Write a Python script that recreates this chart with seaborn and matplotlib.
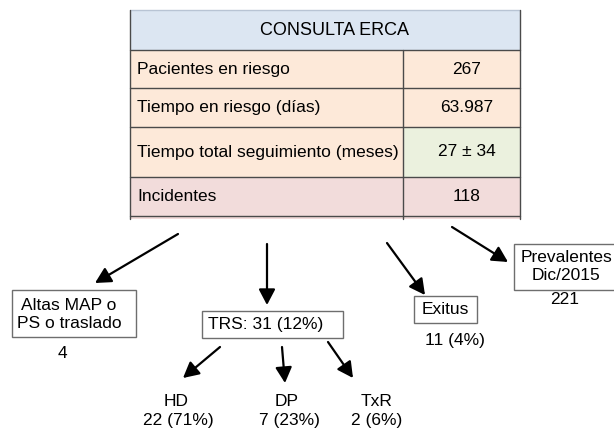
import matplotlib
matplotlib.use("Agg")
import matplotlib.pyplot as plt
from matplotlib.patches import Rectangle
import seaborn as sns

# data
title = "CONSULTA ERCA"
row_labels = ["Pacientes en riesgo", "Tiempo en riesgo (días)",
              "Tiempo total seguimiento (meses)", "Incidentes"]
row_values = ["267", "63.987", "27 ± 34", "118"]

outcome_labels = ["Altas MAP o\nPS o traslado", "TRS: 31 (12%)", "Exitus", "Prevalentes\nDic/2015"]
outcome_counts = ["4", "", "11 (4%)", "221"]

trs_labels = ["HD", "DP", "TxR"]
trs_counts = ["22 (71%)", "7 (23%)", "2 (6%)"]

# layout (pixel coordinates, y down)
tab_left, tab_right, tab_div = 130, 520, 403
header = (10, 50)
row_edges = [50, 88, 127, 177, 216]
row_colors = ["#fde9d9", "#fde9d9", "#fde9d9", "#f2dcdb"]
value_colors = ["#fde9d9", "#fde9d9", "#ebf1de", "#f2dcdb"]
header_color = "#dce6f2"
line_color = "#4a4a4a"

# box: x0, y0, x1, y1 ; text position ; count position
boxes = [(12, 290, 136, 337), (202, 311, 343, 338), (414, 296, 477, 323), (514, 244, 616, 290)]
box_text_pos = [(69, 315), (266, 324), (445, 309), (566, 267)]
count_pos = [(62, 353), None, (455, 341), (565, 300)]

main_arrows = [((178, 234), (95, 283)), ((267, 244), (267, 305)),
               ((387, 243), (425, 295)), ((452, 227), (508, 262))]
sub_arrows = [((220, 347), (183, 378)), ((282, 347), (285, 383)), ((328, 342), (353, 378))]
trs_label_pos = [(176, 401), (287, 401), (377, 401)]
trs_count_pos = [(178, 420), (289, 420), (377, 420)]

sns.set_theme(style="white")
plt.rcParams["font.family"] = ["Liberation Sans", "DejaVu Sans"]
plt.rcParams["text.color"] = "black"
fs = 12.5

fig = plt.figure(figsize=(6.14, 4.28), dpi=100)
ax = fig.add_axes([0, 0, 1, 1])
ax.set_xlim(0, 614)
ax.set_ylim(428, 0)
ax.axis("off")

# table header
ax.add_patch(Rectangle((tab_left, header[0]), tab_right - tab_left, header[1] - header[0],
                       facecolor=header_color, edgecolor="none"))
ax.plot([tab_left, tab_right], [header[0], header[0]], color="#b8c4d4", lw=1)
ax.text(335, 30, title, ha="center", va="center", fontsize=13)

# table rows
for i, (lab, val) in enumerate(zip(row_labels, row_values)):
    y0, y1 = row_edges[i], row_edges[i + 1]
    ax.add_patch(Rectangle((tab_left, y0), tab_div - tab_left, y1 - y0,
                           facecolor=row_colors[i], edgecolor="none"))
    ax.add_patch(Rectangle((tab_div, y0), tab_right - tab_div, y1 - y0,
                           facecolor=value_colors[i], edgecolor="none"))
    ym = (y0 + y1) / 2
    ax.text(137, ym, lab, ha="left", va="center", fontsize=fs)
    ax.text(467, ym, val, ha="center", va="center", fontsize=fs)

ax.add_patch(Rectangle((tab_left, row_edges[-1]), tab_right - tab_left, 3,
                       facecolor=row_colors[-1], edgecolor="none"))
for y in row_edges:
    ax.plot([tab_left, tab_right], [y, y], color=line_color, lw=1)
ax.plot([tab_left, tab_left], [header[0], 219], color=line_color, lw=1)
ax.plot([tab_right, tab_right], [header[0], 219], color=line_color, lw=1)
ax.plot([tab_div, tab_div], [row_edges[0], 219], color=line_color, lw=1)

# arrows
head = "-|>,head_length=0.95,head_width=0.5"
for (tail, tip) in main_arrows + sub_arrows:
    ax.annotate("", xy=tip, xytext=tail,
                arrowprops=dict(arrowstyle=head, mutation_scale=10, color="black",
                                lw=1.6, shrinkA=0, shrinkB=0))

# outcome boxes
for (x0, y0, x1, y1), (tx, ty), lab, cpos, cnt in zip(boxes, box_text_pos, outcome_labels,
                                                     count_pos, outcome_counts):
    ax.add_patch(Rectangle((x0, y0), x1 - x0, y1 - y0, facecolor="white",
                           edgecolor="#6e6e6e", lw=1))
    ax.text(tx, ty, lab, ha="center", va="center", fontsize=fs, linespacing=1.25)
    if cpos is not None:
        ax.text(cpos[0], cpos[1], cnt, ha="center", va="center", fontsize=fs)

for lab, cnt, lp, cp in zip(trs_labels, trs_counts, trs_label_pos, trs_count_pos):
    ax.text(lp[0], lp[1], lab, ha="center", va="center", fontsize=fs)
    ax.text(cp[0], cp[1], cnt, ha="center", va="center", fontsize=fs)

fig.savefig("out.png", dpi=100)
